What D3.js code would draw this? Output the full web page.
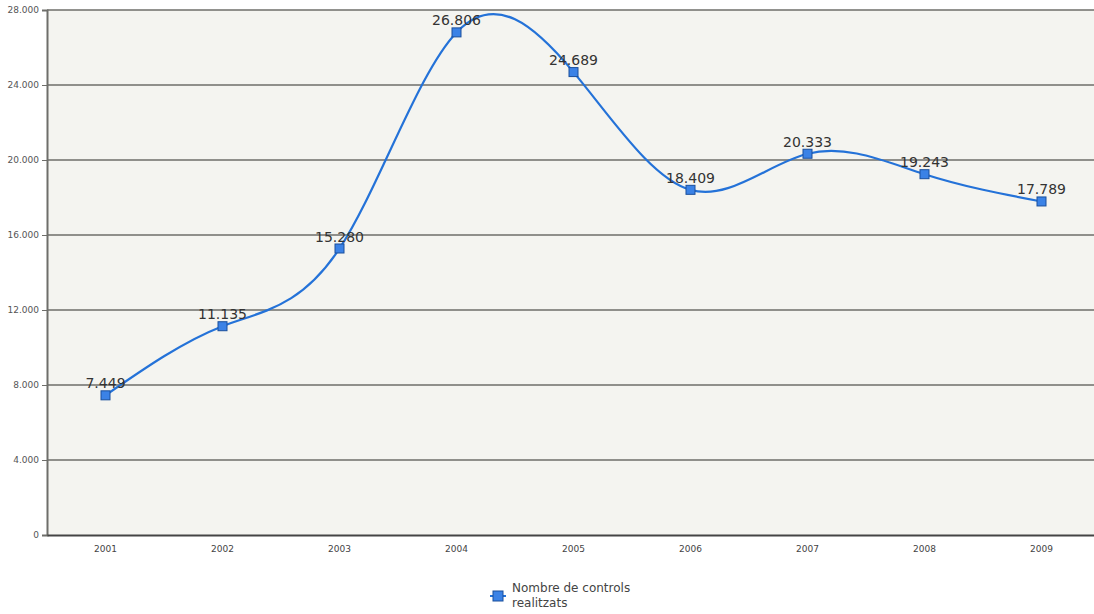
<!DOCTYPE html>
<html><head><meta charset="utf-8">
<script src="https://cdn.jsdelivr.net/npm/d3@7"></script>
<style>body{margin:0;background:#fff;}svg{display:block;}</style>
</head><body>
<svg id="c" width="1094" height="614"></svg>
<script>
const years = ["2001","2002","2003","2004","2005","2006","2007","2008","2009"];
const values = [7449, 11135, 15280, 26806, 24689, 18409, 20333, 19243, 17789];
const yTicks = [0, 4000, 8000, 12000, 16000, 20000, 24000, 28000];
const seriesName = ["Nombre de controls", "realitzats"];

const svg = d3.select("#c");
const pL = 47, pT = 10, pB = 535, pR = 1100;
const x = d3.scaleBand().domain(years).range([pL, pR]);
const y = d3.scaleLinear().domain([0, 28000]).range([pB, pT]);
const fmt = v => d3.format(",")(v).replace(/,/g, ".");

svg.append("rect").attr("x", pL).attr("y", pT).attr("width", pR - pL).attr("height", pB - pT).attr("fill", "#f4f4f0");

// gridlines
svg.append("g").selectAll("line").data(yTicks.filter(d => d > 0)).join("line")
  .attr("x1", pL).attr("x2", pR).attr("y1", d => y(d)).attr("y2", d => y(d))
  .attr("stroke", "#6e6e6a").attr("stroke-width", 1.5);

// y axis
const ya = svg.append("g").attr("transform", `translate(${pL},0)`)
  .call(d3.axisLeft(y).tickValues(yTicks).tickSize(5).tickPadding(3).tickFormat(fmt));
ya.select(".domain").attr("stroke", "#6e6e6a").attr("stroke-width", 2);
ya.selectAll(".tick line").attr("stroke", "#6e6e6a");
ya.selectAll("text").attr("font-family", "DejaVu Sans").attr("font-size", 9).attr("fill", "#555");

// x axis
const xa = svg.append("g").attr("transform", `translate(0,${pB})`)
  .call(d3.axisBottom(x).tickSize(0).tickPadding(11));
xa.select(".domain").attr("stroke", "#444").attr("stroke-width", 2);
xa.selectAll("text").attr("font-family", "DejaVu Sans").attr("font-size", 9).attr("fill", "#444");

const pts = years.map((yr, i) => [x(yr) + x.bandwidth() / 2, y(values[i])]);
svg.append("path").datum(pts)
  .attr("d", d3.line().curve(d3.curveNatural))
  .attr("fill", "none").attr("stroke", "#2472d8").attr("stroke-width", 2.2);

svg.append("g").selectAll("rect").data(pts).join("rect")
  .attr("x", d => d[0] - 4.5).attr("y", d => d[1] - 4.5).attr("width", 9).attr("height", 9)
  .attr("fill", "#3b82e6").attr("stroke", "#1a4f9c").attr("stroke-width", 1);

svg.append("g").selectAll("text").data(pts).join("text")
  .attr("x", d => d[0]).attr("y", d => d[1] - 7)
  .attr("text-anchor", "middle").attr("font-family", "DejaVu Sans").attr("font-size", 14)
  .attr("fill", "#333").text((d, i) => fmt(values[i]));

// legend
const lg = svg.append("g").attr("transform", "translate(498,596)");
lg.append("line").attr("x1", -8).attr("x2", 8).attr("stroke", "#2472d8").attr("stroke-width", 2);
lg.append("rect").attr("x", -5).attr("y", -5).attr("width", 10).attr("height", 10)
  .attr("fill", "#3b82e6").attr("stroke", "#1a4f9c");
lg.selectAll("text").data(seriesName).join("text")
  .attr("x", 14).attr("y", (d, i) => -4 + i * 15)
  .attr("font-family", "DejaVu Sans").attr("font-size", 12).attr("fill", "#444").text(d => d);
</script>
</body></html>
